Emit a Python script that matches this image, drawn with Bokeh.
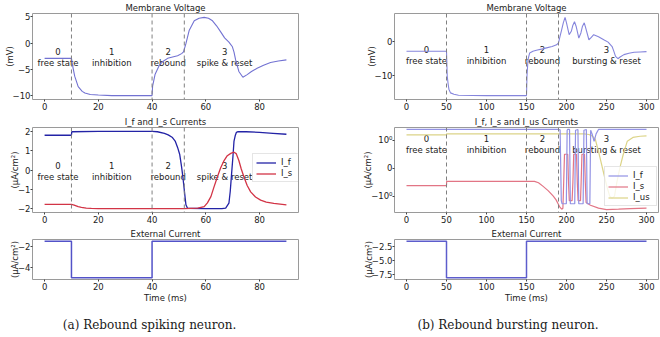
import numpy as np
from bokeh.plotting import figure
from bokeh.layouts import row, column
from bokeh.models import FixedTicker, Span, Range1d
from bokeh.core.properties import value
from bokeh.embed import file_html
from bokeh.resources import INLINE

# ---------------- data: (a) rebound spiking neuron ----------------
t_a_v = [0, 10, 10.5, 11.2, 12.5, 14, 15, 17, 20, 25, 30, 40, 40.2, 41.1, 42.7, 44, 45.8, 48, 49.5, 51,
         51.7, 52.6, 53.8, 55.7, 57.5, 59.4, 61, 62.5, 64, 65.6, 67, 68.6, 69.9, 70.5, 71.1, 72.3, 73.8,
         75.4, 77, 79.1, 81.5, 84.1, 87, 90]
v_a = [-2.9, -2.9, -4.5, -6.3, -8.3, -9.2, -9.5, -9.8, -9.9, -10, -10, -10, -8.2, -6.0, -4.2, -3.5, -2.9,
       -2.6, -2.4, -2.0, -1.67, -0.1, 2.4, 4.25, 4.75, 4.9, 4.75, 4.25, 3.3, 2.1, 1.0, 0.2, -0.7, -1.7,
       -3.2, -5.4, -6.5, -6.0, -5.4, -4.8, -4.2, -3.7, -3.4, -3.2]

t_a_f = [0, 10, 10.1, 20, 30, 40, 42, 44.6, 46, 47.6, 48.6, 49.5, 50.3, 51, 51.5, 52, 52.6, 53.2, 60, 66,
         67.4, 68.6, 69.1, 69.6, 70.1, 70.5, 71, 71.4, 72, 75, 80, 85, 90]
i_f_a = [1.8, 1.8, 1.98, 2.0, 2.0, 2.0, 1.98, 1.9, 1.82, 1.68, 1.5, 1.17, 0.8, 0.15, -0.4, -1.05, -1.8,
         -1.98, -2.0, -2.0, -1.97, -1.72, -1.1, -0.19, 0.7, 1.5, 1.8, 1.95, 1.99, 1.98, 1.95, 1.9, 1.85]

t_a_s = [0, 10, 11, 12.5, 13.7, 15.5, 17.4, 20, 40, 52, 57, 59.4, 60.6, 61.9, 63, 64.3, 65.5, 66.8, 68,
         69.3, 70.5, 71.3, 72.3, 73.2, 74.2, 75.4, 76.7, 78.5, 80.4, 82.5, 85.3, 90]
i_s_a = [-1.78, -1.78, -1.82, -1.9, -1.93, -1.97, -1.99, -2.0, -2.0, -2.0, -1.97, -1.9, -1.7, -1.38, -0.9,
         -0.36, 0.1, 0.49, 0.74, 0.86, 0.92, 0.85, 0.49, 0.05, -0.36, -0.8, -1.13, -1.4, -1.56, -1.66,
         -1.73, -1.81]

t_a_ext = [0, 10, 40, 90]
ext_a = [-1.5, -5.0, -1.5, -1.5]

phase_bounds_a = [10, 40, 52]
phase_x_a = [5, 25, 46, 67]
phase_labels_a = ["0\nfree state", "1\ninhibition", "2\nrebound", "3\nspike & reset"]

# ---------------- data: (b) rebound bursting neuron ----------------
t_b_v = [0, 50, 50.9, 52, 53, 55, 59.3, 65, 100, 150, 150.6, 151.9, 154, 158, 162.4, 170, 175, 182, 187.6,
         190, 191.9, 194, 196, 198.2, 200, 203.3, 206, 208, 210, 212, 215.4, 218, 220, 222.2, 224, 228,
         231, 234, 240, 246.6, 252, 257, 259, 261.3, 264.3, 267, 271.8, 278, 284.5, 292, 300]
v_b = [-2.9, -2.9, -10.2, -12.5, -14.1, -15.2, -15.6, -15.9, -16, -16, -10.2, -5.3, -3.4, -2.9, -2.6,
       -2.2, -1.9, -1.5, -1.0, -0.4, 1.5, 3.5, 5.5, 7.1, 5.5, 2.0, 3.0, 4.8, 5.8, 4.5, 1.0, 2.5, 4.5, 5.5,
       4.0, 0.5, 1.2, 2.0, 1.4, 0.5, -0.2, -1.5, -2.8, -4.4, -5.1, -4.6, -3.9, -3.5, -3.2, -3.1, -3.0]

t_b_f = [0, 190, 192, 193.5, 194.5, 199.8, 200.8, 201.5, 203.8, 204.8, 210.3, 211.3, 214.3, 215.3, 220.8,
         221.8, 224.8, 225.8, 229.2, 230.2, 232, 234.5, 237, 240, 260, 300]
i_f_b = [2.7, 2.7, 2.6, -1.5, -2.0, -2.0, 2.5, 2.7, 2.7, -2.0, -2.0, 2.5, 2.7, -2.0, -2.0, 2.5, 2.7, -2.0,
         -2.0, 2.5, 1.8, 0.96, 1.8, 2.7, 2.7, 2.7]

t_b_s = [0, 50, 50.2, 160, 165, 170.8, 177, 183.5, 187, 189.8, 192, 194, 195.5, 196.5, 197.5, 201.5,
         202.5, 203.5, 207, 208, 209, 212.5, 213.5, 214.5, 217.5, 218.3, 219.3, 222.5, 223.5, 224.5, 230,
         240, 250, 265, 280, 300]
i_s_b = [-0.62, -0.62, -0.47, -0.47, -0.52, -0.65, -0.8, -1.0, -1.4, -2.1, -2.8, -3.3, -3.0, -0.5, 0.5,
         0.5, -0.5, -1.5, -1.5, -0.5, 0.5, 0.5, -0.5, -1.5, -1.5, -0.5, 0.5, 0.5, -0.5, -1.8, -2.3, -3.0,
         -3.4, -3.3, -3.1, -3.0]

t_b_us = [0, 50, 50.2, 190, 222, 228, 232, 236, 240, 245, 250, 254, 257, 260, 263, 267, 271, 276, 283, 292, 300]
i_us_b = [1.65, 1.65, 1.8, 1.8, 1.8, 1.7, 1.5, 1.1, 0.6, 0.0, -0.6, -1.0, -1.2, -1.0, -0.5, 0.05, 0.5,
          0.97, 1.3, 1.45, 1.5]

t_b_ext = [0, 50, 150, 300]
ext_b = [-1.5, -8.0, -1.5, -1.5]

phase_bounds_b = [50, 150, 190]
phase_x_b = [25, 100, 170, 250]
phase_labels_b = ["0\nfree state", "1\ninhibition", "2\nrebound", "3\nbursting & reset"]

captions = ["(a) Rebound spiking neuron.", "(b) Rebound bursting neuron."]

# ticks
xt_a = [0, 20, 40, 60, 80]
xt_b = [0, 50, 100, 150, 200, 250, 300]
yt_a_v = [-10, -5, 0, 5]
yt_a_i = [-2, -1, 0, 1, 2]
yt_a_e = [-4, -2]
yt_b_v = [-10, 0]
yt_b_i = [-1, 0, 1]
yt_b_e = [-7.5, -5.0, -2.5]
yl_b_i = ["\u221210\u2070", "0", "10\u2070"]

FONT = "DejaVu Sans"
FS = "8.5px"
TXT = "#222222"


def symlog(v, linthresh=1.0, linscale=1.0, base=10.0):
    v = np.asarray(v, dtype=float)
    la = linscale / (1.0 - 1.0 / base)
    a = np.abs(v)
    lin = v * la
    lg = np.sign(v) * linthresh * (la + np.log10(np.maximum(a, 1e-12) / linthresh) / np.log10(base))
    return np.where(a <= linthresh, lin, lg)


def minus(v, fmt="{:g}"):
    s = fmt.format(abs(v))
    return ("\u2212" + s) if v < 0 else s


def make_fig(title, xr, yr, height, top, bottom, left, right, width=330):
    p = figure(width=width, height=height, x_range=Range1d(*xr), y_range=Range1d(*yr),
               output_backend="svg", toolbar_location=None, title=title,
               min_border_top=top, min_border_bottom=bottom,
               min_border_left=left, min_border_right=right)
    p.title.align = "center"
    p.title.text_font = FONT
    p.title.text_font_size = FS
    p.title.text_font_style = "normal"
    p.title.text_color = TXT
    p.title.standoff = 1
    p.title.offset = 0
    p.xgrid.visible = False
    p.ygrid.visible = False
    p.outline_line_color = "#9a9a9a"
    p.outline_line_width = 1
    for ax in (p.xaxis[0], p.yaxis[0]):
        ax.axis_line_color = None
        ax.major_tick_out = 2
        ax.major_tick_in = 0
        ax.minor_tick_out = 0
        ax.minor_tick_in = 0
        ax.major_tick_line_color = "#444444"
        ax.major_label_text_font = FONT
        ax.major_label_text_font_size = FS
        ax.major_label_text_color = TXT
        ax.major_label_standoff = 1
        ax.axis_label_text_font = FONT
        ax.axis_label_text_font_size = FS
        ax.axis_label_text_font_style = "normal"
        ax.axis_label_text_color = TXT
    p.yaxis[0].major_label_standoff = 0
    p.yaxis[0].axis_label_standoff = -5
    p.xaxis[0].axis_label_standoff = 0
    return p


def set_ticks(axis, ticks, labels=None, fmt="{:g}"):
    axis.ticker = FixedTicker(ticks=list(ticks))
    if labels is None:
        labels = [minus(t, fmt) for t in ticks]
    axis.major_label_overrides = {float(t): l for t, l in zip(ticks, labels)}


def add_phases(p, bounds, xs, labels, ylab):
    for b in bounds:
        p.add_layout(Span(location=b, dimension="height", line_color="#808080",
                          line_dash="4 3", line_width=1))
    p.text(x=xs, y=[ylab] * len(xs), text=labels, text_font=value(FONT), text_font_size=FS,
           text_align="center", text_baseline="middle", text_color=TXT, text_line_height=1.1)


# ---------------- left column ----------------
XR_A = (-4.5, 94.5)
p1 = make_fig("Membrane Voltage", XR_A, (-10.745, 5.645), 114, 13, 15, 32, 32)
add_phases(p1, phase_bounds_a, phase_x_a, phase_labels_a, -2.75)
p1.line(t_a_v, v_a, line_color="#7272d2", line_width=1.1)
p1.yaxis.axis_label = "(mV)"
set_ticks(p1.xaxis[0], xt_a)
set_ticks(p1.yaxis[0], yt_a_v)

p2 = make_fig("I_f and I_s Currents", XR_A, (-2.2, 2.2), 112, 12, 14, 32, 32)
add_phases(p2, phase_bounds_a, phase_x_a, phase_labels_a, -0.1)
p2.line(t_a_f, i_f_a, line_color="#2323a6", line_width=1.3, legend_label="I_f")
p2.line(t_a_s, i_s_a, line_color="#d23446", line_width=1.3, legend_label="I_s")
p2.yaxis.axis_label = "(\u03bcA/cm\u00b2)"
set_ticks(p2.xaxis[0], xt_a)
set_ticks(p2.yaxis[0], yt_a_i)

p3 = make_fig("External Current", XR_A, (-5.175, -1.325), 79, 11, 24, 32, 32)
p3.step(t_a_ext, ext_a, mode="after", line_color="#5252c8", line_width=1.5)
p3.yaxis.axis_label = "(\u03bcA/cm\u00b2)"
p3.xaxis.axis_label = "Time (ms)"
set_ticks(p3.xaxis[0], xt_a)
set_ticks(p3.yaxis[0], yt_a_e)

# ---------------- right column ----------------
XR_B = (-15, 315)
p4 = make_fig("Membrane Voltage", XR_B, (-17.155, 8.255), 114, 13, 15, 64, 2)
add_phases(p4, phase_bounds_b, phase_x_b, phase_labels_b, -4.3)
p4.line(t_b_v, v_b, line_color="#8585dc", line_width=1.1)
p4.yaxis.axis_label = "(mV)"
set_ticks(p4.xaxis[0], xt_b)
set_ticks(p4.yaxis[0], yt_b_v)

p5 = make_fig("I_f, I_s and I_us Currents", XR_B, (-1.76, 1.62), 112, 12, 14, 64, 2)
add_phases(p5, phase_bounds_b, phase_x_b, phase_labels_b, 0.93)
p5.line(t_b_us, symlog(i_us_b), line_color="#dcd488", line_width=1.2, legend_label="I_us")
p5.line(t_b_s, symlog(i_s_b), line_color="#e27585", line_width=1.2, legend_label="I_s")
p5.line(t_b_f, symlog(i_f_b), line_color="#9292e4", line_width=1.2, legend_label="I_f")
p5.yaxis.axis_label = "(\u03bcA/cm\u00b2)"
set_ticks(p5.xaxis[0], xt_b)
set_ticks(p5.yaxis[0], list(symlog(yt_b_i)), yl_b_i)

p6 = make_fig("External Current", XR_B, (-8.325, -1.175), 79, 11, 24, 64, 2)
p6.step(t_b_ext, ext_b, mode="after", line_color="#5d5dcc", line_width=1.5)
p6.yaxis.axis_label = "(\u03bcA/cm\u00b2)"
p6.xaxis.axis_label = "Time (ms)"
set_ticks(p6.xaxis[0], xt_b)
set_ticks(p6.yaxis[0], yt_b_e, fmt="{:.1f}")

# ---------------- legends ----------------
for p, loc in ((p2, (220, 30)), (p5, (210, 6))):
    lg = p.legend[0]
    lg.location = loc
    lg.label_text_font = FONT
    lg.label_text_font_size = FS
    lg.label_text_color = TXT
    lg.glyph_width = 20
    lg.glyph_height = 9
    lg.label_height = 9
    lg.spacing = 1
    lg.padding = 3
    lg.margin = 0
    lg.label_standoff = 5
    lg.border_line_color = "#cccccc"
    lg.background_fill_alpha = 0.8

items = p5.legend[0].items
p5.legend[0].items = [items[2], items[1], items[0]]

# ---------------- captions (one full-width strip) ----------------
cap = figure(width=660, height=32, x_range=Range1d(0, 660), y_range=Range1d(0, 32),
             x_axis_type=None, y_axis_type=None, output_backend="svg", toolbar_location=None,
             min_border=0, min_border_left=0, min_border_right=0, min_border_top=0, min_border_bottom=0)
cap.grid.visible = False
cap.outline_line_color = None
cap.text(x=[149, 507.5], y=[13, 13], text=captions, text_align="center", text_baseline="middle",
         text_font=value("DejaVu Serif"), text_font_size="12px", text_color="#1a1a1a")

layout = column(row(column(p1, p2, p3), column(p4, p5, p6)), cap)
open("out.html", "w").write(file_html(layout, INLINE))
